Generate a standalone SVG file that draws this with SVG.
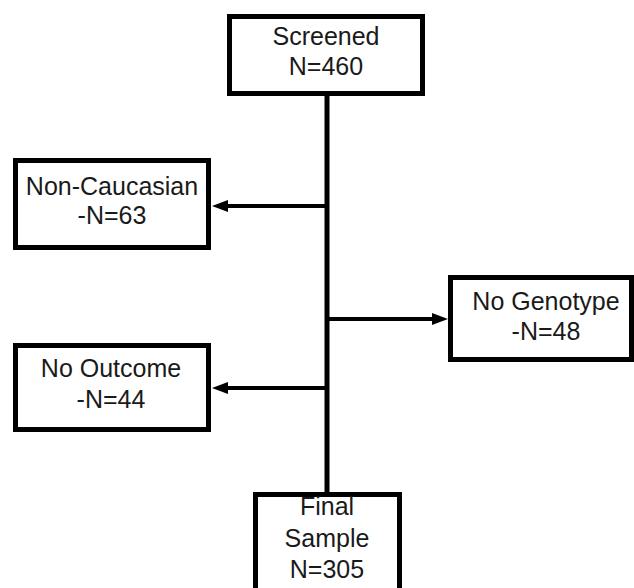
<svg xmlns="http://www.w3.org/2000/svg" width="634" height="588" viewBox="0 0 634 588">
<style>
.box{fill:#fff;stroke:#000;stroke-width:5}
.lbl{font-family:"Liberation Sans",Arial,sans-serif;font-size:25px;fill:#1a1a1a;text-anchor:middle}
.conn{stroke:#000;fill:none}
</style>
<defs>
<marker id="ah" markerUnits="userSpaceOnUse" markerWidth="16" markerHeight="12" refX="16" refY="6" orient="auto">
<path d="M0,0 L16,6 L0,12 z" fill="#000"/>
</marker>
</defs>
<rect width="634" height="588" fill="#fff"/>
<g id="connectors">
<line class="conn" x1="327" y1="94" x2="327" y2="494" stroke-width="5"/>
<line class="conn" x1="327" y1="206" x2="220" y2="206" stroke-width="4"/>
<polygon points="212,206 228,200 228,212" fill="#000"/>
<line class="conn" x1="327" y1="319" x2="440" y2="319" stroke-width="4"/>
<polygon points="448,319 432,313 432,325" fill="#000"/>
<line class="conn" x1="327" y1="388" x2="220" y2="388" stroke-width="4"/>
<polygon points="212,388 228,382 228,394" fill="#000"/>
</g>
<g id="screened">
<rect class="box" x="229.5" y="16.5" width="193" height="77"/>
<text class="lbl" x="326" y="45">Screened</text>
<text class="lbl" x="326" y="75">N=460</text>
</g>
<g id="non-caucasian">
<rect class="box" x="15.5" y="160.5" width="193" height="87"/>
<text class="lbl" x="112" y="195">Non-Caucasian</text>
<text class="lbl" x="112" y="224">-N=63</text>
</g>
<g id="no-genotype">
<rect class="box" x="450.5" y="277.5" width="181" height="82"/>
<text class="lbl" x="546" y="310">No Genotype</text>
<text class="lbl" x="546" y="340">-N=48</text>
</g>
<g id="no-outcome">
<rect class="box" x="15.5" y="345.5" width="193" height="84"/>
<text class="lbl" x="111" y="377">No Outcome</text>
<text class="lbl" x="111" y="408">-N=44</text>
</g>
<g id="final-sample">
<rect class="box" x="255.5" y="494.5" width="144" height="100"/>
<text class="lbl" x="327" y="515">Final</text>
<text class="lbl" x="327" y="547">Sample</text>
<text class="lbl" x="327" y="578">N=305</text>
</g>
</svg>
